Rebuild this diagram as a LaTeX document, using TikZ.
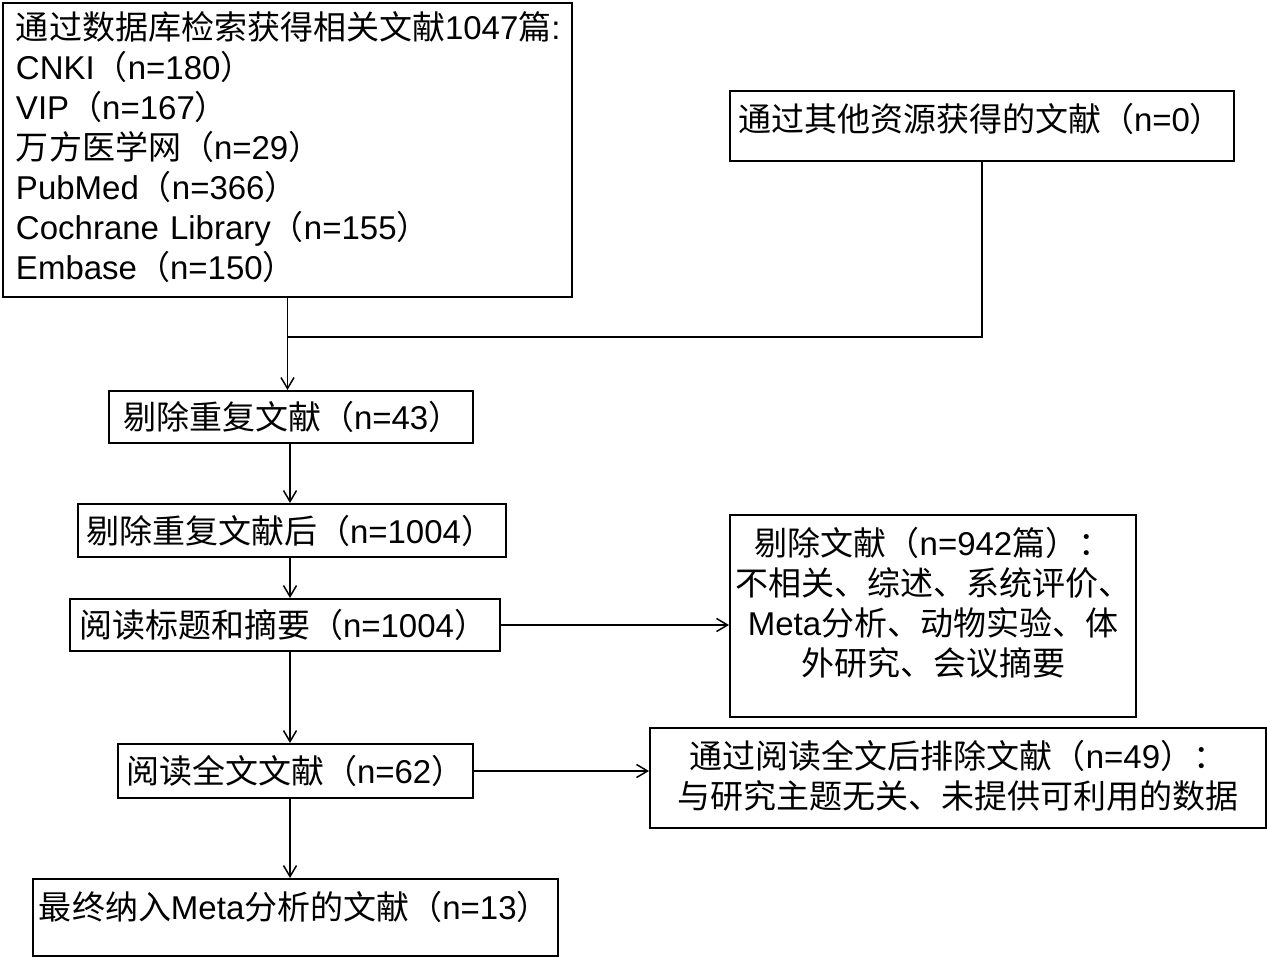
\documentclass[tikz,border=0pt]{standalone}
\usepackage{fontspec}
\setmainfont{Noto Sans CJK SC}
\newfontfamily\enfont{Liberation Sans}
\newcommand{\en}[1]{{\enfont #1}}
\usetikzlibrary{arrows.meta}
\tikzset{
	box/.style={draw, line width=1pt, anchor=north west, inner ysep=0pt,
		font=\fontsize{16.5pt}{20pt}\selectfont},
	lbox/.style={box, align=left},
	cbox/.style={box, align=center, inner xsep=0pt},
	line/.style={line width=0.75pt},
	arr/.style={line, -{Straight Barb[length=5.5pt,width=6.5pt]}}
}
\begin{document}
\begin{tikzpicture}[x=0.5pt, y=-0.5pt]
	\useasboundingbox (0,0) rectangle (1267,957);

	% Define sources
	\node[lbox, inner xsep=6.5pt, text width=271.5pt, minimum height=147pt] (db) at (2,2)
		{通过数据库检索获得相关文献\en{1047}篇\en{:}\\
		 \en{CNKI}（\en{n=180}）\\
		 \en{VIP}（\en{n=167}）\\
		 万方医学网（\en{n=29}）\\
		 \en{PubMed}（\en{n=366}）\\
		 \en{Cochrane Library}（\en{n=155}）\\
		 \en{Embase}（\en{n=150}）\rule[-4pt]{0pt}{0pt}};
	\node[lbox, inner xsep=4pt, text width=244pt, minimum height=35pt] (other) at (729,90)
		{通过其他资源获得的文献（\en{n=0}）\rule[-8.5pt]{0pt}{0pt}};
	\coordinate (join) at (286.5,337);
	\coordinate (spine) at (290,0);

	\draw[line] (other.south) |- (join);

	% Define screening steps
	\node[lbox, inner xsep=7pt, text width=168pt, minimum height=26pt] (dup) at (108,390)
		{剔除重复文献（\en{n=43}）};
	\node[lbox, inner xsep=4pt, text width=206pt, minimum height=26.5pt] (after) at (77,503)
		{剔除重复文献后（\en{n=1004}）};
	\node[lbox, inner xsep=4.5pt, text width=206pt, minimum height=26pt] (title) at (69,598)
		{阅读标题和摘要（\en{n=1004}）};
	\node[lbox, inner xsep=4pt, text width=169.5pt, minimum height=27pt] (full) at (117,743)
		{阅读全文文献（\en{n=62}）};
	\node[lbox, inner xsep=3pt, text width=256.5pt, minimum height=38.5pt] (final) at (32,878)
		{最终纳入\en{Meta}分析的文献（\en{n=13}）\rule[-12pt]{0pt}{0pt}};

	\draw[arr] (db.south) -- (db.south |- dup.north);
	\draw[arr] (dup.south -| spine) -- (after.north -| spine);
	\draw[arr] (after.south -| spine) -- (title.north -| spine);
	\draw[arr] (title.south -| spine) -- (full.north -| spine);
	\draw[arr] (full.south -| spine) -- (final.north -| spine);

	% Define exclusions
	\node[cbox, minimum width=203pt, minimum height=101pt] (excl1) at (729,514)
		{剔除文献（\en{n=942}篇）：\\
		 不相关、综述、系统评价、\\
		 \en{Meta}分析、动物实验、体\\
		 外研究、会议摘要\rule[-14.5pt]{0pt}{0pt}};
	\node[cbox, minimum width=308pt, minimum height=50pt] (excl2) at (649,727)
		{通过阅读全文后排除文献（\en{n=49}）：\\
		 与研究主题无关、未提供可利用的数据\rule[-4pt]{0pt}{0pt}};

	\draw[arr] (title.east) -- (title.east -| excl1.west);
	\draw[arr] (full.east) -- (full.east -| excl2.west);
\end{tikzpicture}
\end{document}
